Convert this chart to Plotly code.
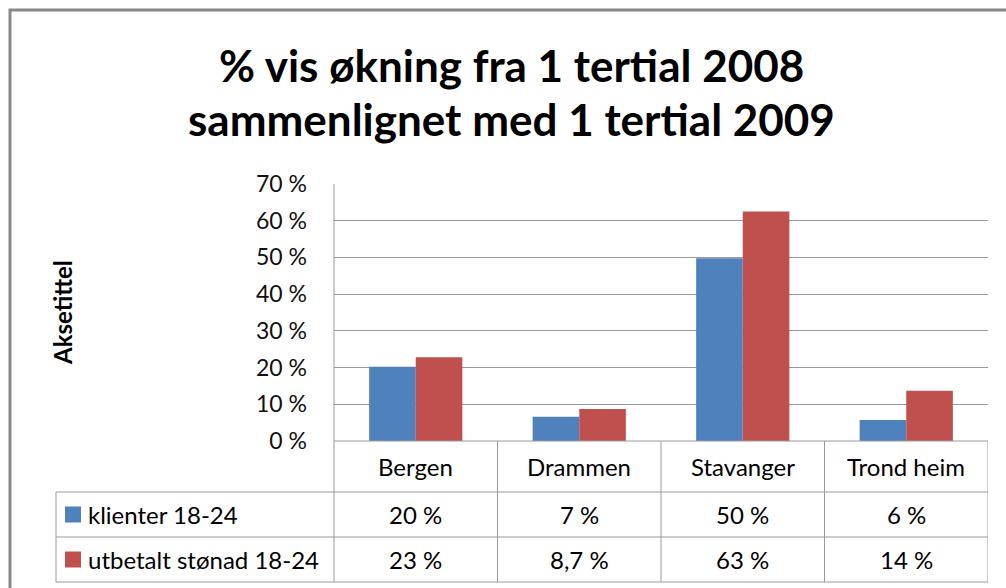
import plotly.graph_objects as go

categories = ["Bergen", "Drammen", "Stavanger", "Trondheim"]
series_names = ["klienter 18-24", "utbetalt stønad 18-24"]
klienter = [20.2, 6.6, 49.8, 5.7]
utbetalt = [22.8, 8.7, 62.5, 13.7]
klienter_labels = ["20 %", "7 %", "50 %", "6 %"]
utbetalt_labels = ["23 %", "8,7 %", "63 %", "14 %"]
category_labels = ["Bergen", "Drammen", "Stavanger", "Trond heim"]
colors = ["#4F81BD", "#C0504D"]
tick_vals = [0, 10, 20, 30, 40, 50, 60, 70]
title_lines = ["% vis økning fra 1 tertial 2008", "sammenlignet med 1 tertial 2009"]
axis_title = "Aksetittel"

W, H = 1006, 588
L, R, T, B = 334, 988, 184, 441  # plot area in pixels


def px(x):
    return (x - L) / (R - L)


def py(y):
    return (B - y) / (B - T)


FONT = "Lato, Carlito, Calibri, sans-serif"
GRID = "#9A9A9A"
TFS = 24

fig = go.Figure()
for name, vals, col in zip(series_names, [klienter, utbetalt], colors):
    fig.add_trace(go.Bar(x=list(range(len(categories))), y=vals, name=name,
                         marker=dict(color=col, line=dict(width=0)), showlegend=False))

shapes = []
annotations = []

# outer chart border
shapes.append(dict(type="rect", xref="paper", yref="paper", x0=px(10), x1=px(1030),
                   y0=py(10), y1=py(620), line=dict(color="#888888", width=3), layer="above"))

# table horizontal lines
shapes.append(dict(type="line", xref="paper", yref="paper", x0=px(L), x1=px(R), y0=py(B), y1=py(B),
                   line=dict(color=GRID, width=1)))
for yy in [492, 537, 582]:
    shapes.append(dict(type="line", xref="paper", yref="paper", x0=px(56), x1=px(R), y0=py(yy), y1=py(yy),
                       line=dict(color=GRID, width=1)))
# table vertical lines
shapes.append(dict(type="line", xref="paper", yref="paper", x0=px(56), x1=px(56), y0=py(492), y1=py(582),
                   line=dict(color=GRID, width=1)))
shapes.append(dict(type="line", xref="paper", yref="paper", x0=px(L), x1=px(L), y0=py(T), y1=py(582),
                   line=dict(color=GRID, width=1)))
for i in range(len(categories)):
    xb = i + 0.5
    shapes.append(dict(type="line", xref="x", yref="paper", x0=xb, x1=xb, y0=py(B), y1=py(582),
                       line=dict(color=GRID, width=1)))

# category labels and values
for i, lab in enumerate(category_labels):
    annotations.append(dict(x=i, y=py(466.5), xref="x", yref="paper", text=lab, showarrow=False,
                            font=dict(family=FONT, size=TFS, color="#000000"), xanchor="center", yanchor="middle"))
for row_y, labs in [(514.5, klienter_labels), (559.5, utbetalt_labels)]:
    for i, lab in enumerate(labs):
        annotations.append(dict(x=i, y=py(row_y), xref="x", yref="paper", text=lab, showarrow=False,
                                font=dict(family=FONT, size=TFS, color="#000000"), xanchor="center", yanchor="middle"))

# legend keys in table
for row_y, name, col in zip([514.5, 559.5], series_names, colors):
    shapes.append(dict(type="rect", xref="paper", yref="paper", x0=px(65), x1=px(81),
                       y0=py(row_y - 8), y1=py(row_y + 8), fillcolor=col, line=dict(width=0)))
    annotations.append(dict(x=px(86), y=py(row_y), xref="paper", yref="paper", text=name, showarrow=False,
                            font=dict(family=FONT, size=TFS, color="#000000"), xanchor="left", yanchor="middle"))

# title
for yy, line in zip([65, 119], title_lines):
    annotations.append(dict(x=px(511), y=py(yy), xref="paper", yref="paper", text="<b>%s</b>" % line,
                            showarrow=False, font=dict(family=FONT, size=44, color="#000000"),
                            xanchor="center", yanchor="middle"))

# axis title
annotations.append(dict(x=px(62), y=py(313), xref="paper", yref="paper", text="<b>%s</b>" % axis_title,
                        showarrow=False, textangle=-90, font=dict(family=FONT, size=24, color="#000000"),
                        xanchor="center", yanchor="middle"))

fig.update_layout(
    width=W, height=H,
    margin=dict(l=L, r=W - R, t=T, b=H - B, pad=0),
    paper_bgcolor="white", plot_bgcolor="white",
    barmode="group", bargap=0.43, bargroupgap=0,
    shapes=shapes, annotations=annotations,
    xaxis=dict(range=[-0.5, len(categories) - 0.5], showticklabels=False, showgrid=False,
               zeroline=False, showline=False, fixedrange=True),
    yaxis=dict(range=[0, 70], tickvals=tick_vals, ticktext=["%d %%" % v for v in tick_vals],
               showgrid=True, gridcolor=GRID, gridwidth=1, zeroline=False, showline=False,
               ticks="", ticklabelstandoff=26,
               tickfont=dict(family=FONT, size=23, color="#111111"), fixedrange=True),
)

fig.write_html("out.html", config={"displayModeBar": False},
               post_script="document.body.style.margin='0';document.body.style.overflow='hidden';")
